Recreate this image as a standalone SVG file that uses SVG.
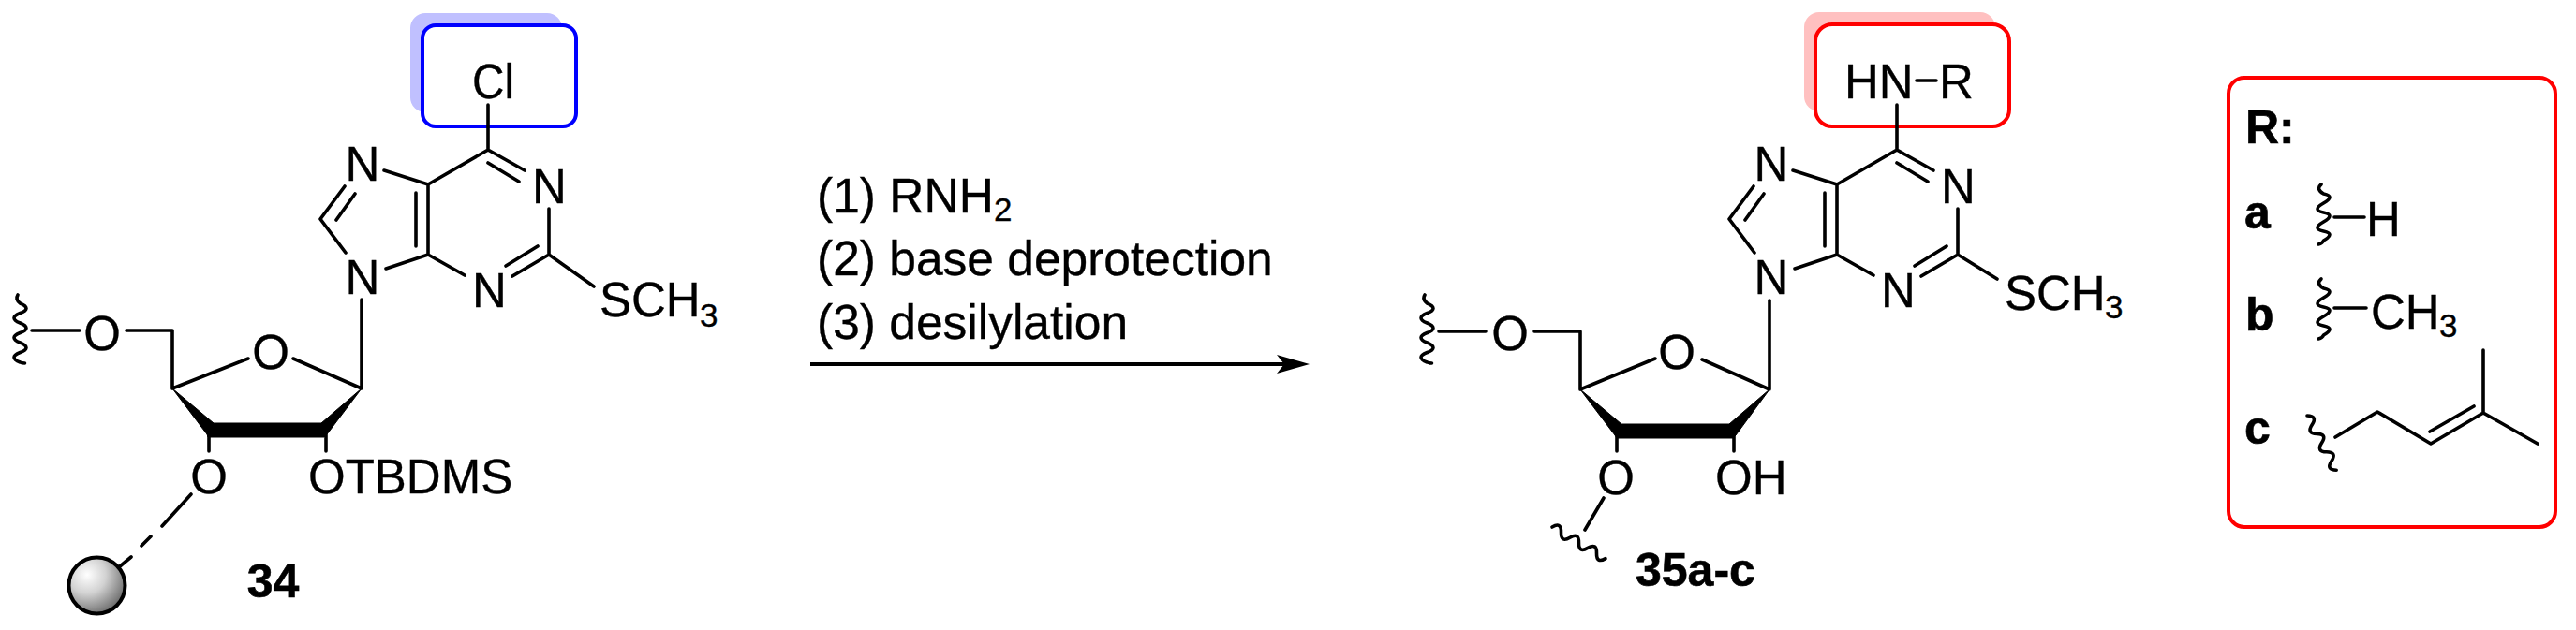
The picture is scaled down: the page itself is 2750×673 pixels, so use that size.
<svg xmlns="http://www.w3.org/2000/svg" width="2750" height="673" viewBox="0 0 2750 673">
<defs>
<style>
text{font-family:"Liberation Sans",Arial,sans-serif;font-size:51px;fill:#000;stroke:#000;stroke-width:.35}
.b{font-weight:bold;font-size:50px;stroke-width:.6}
.s{font-size:35px}
.r{font-size:51.5px}
.m{text-anchor:middle}
.l{fill:none;stroke:#000;stroke-width:3.6;stroke-linecap:round;stroke-linejoin:round}
.w{fill:none;stroke:#000;stroke-width:3.6;stroke-linecap:round;stroke-linejoin:round}
</style>
<radialGradient id="ball" gradientUnits="userSpaceOnUse" cx="93" cy="614" r="50">
<stop offset="0" stop-color="#ffffff"/><stop offset="0.4" stop-color="#d2d2d2"/><stop offset="1" stop-color="#555555"/>
</radialGradient>
</defs>
<rect width="2750" height="673" fill="#fff"/>

<g id="compound-34">
<rect x="438" y="14" width="162" height="106" rx="16" fill="#c0c0ff"/>
<rect x="451" y="27" width="164" height="108" rx="14" fill="#fff" stroke="#0000ff" stroke-width="4"/>
<path class="l" d="M521,112V160L560,182M521,174L554,194M586,223V272L547,295M574,263L540,284M496,294L457,272V197L521,160M444,263V206M457,197L410,182M368,199L342,234L369,270M379,207L359,235M457,272L412,287M386,320V415L313,383M265,383L184,415V353H135M85,353H34M586,272L634,306M223,464V482M348,464V482M204,528L173,562M161,573L151,583M140,595L128,605"/>
<path d="M184,415L228,452H343L386,415L349,464L346,467L222,467L221,464Z" fill="#000" stroke="#000" stroke-width="1" stroke-linejoin="round"/>
<path class="w" d="M19,315q-3,5 2.5,9q13,5.5 0,10.5t0,10.5t0,10.5t0,10.5t0,10.5t0,10.5q2,1 5,1"/>
<circle cx="103.5" cy="625.5" r="30" fill="url(#ball)" stroke="#000" stroke-width="4"/>
<text x="504" y="105" textLength="45" lengthAdjust="spacingAndGlyphs">Cl</text>
<text class="m" x="586.5" y="217">N</text>
<text class="m" x="522.5" y="328">N</text>
<text class="m" x="387" y="193">N</text>
<text class="m" x="387" y="314">N</text>
<text x="640" y="338">SCH</text><text class="s" x="747" y="349">3</text>
<text class="m" x="289" y="394">O</text>
<text class="m" x="109" y="374">O</text>
<text class="m" x="223" y="527">O</text>
<text x="329" y="527">OTBDMS</text>
<text class="b m" x="291.5" y="638">34</text>
</g>

<g id="reaction-conditions">
<text class="r" x="872" y="227">(1) RNH</text><text class="s" x="1061" y="236">2</text>
<text class="r" x="872" y="294">(2) base deprotection</text>
<text class="r" x="872" y="362">(3) desilylation</text>
</g>

<g id="connectors">
<path d="M865,389H1372" fill="none" stroke="#000" stroke-width="4"/>
<path d="M1398,389L1363,379L1371,389L1363,399Z" fill="#000"/>
</g>

<g id="compound-35a-c">
<rect x="1926" y="13" width="204" height="106" rx="16" fill="#ffc0c0"/>
<rect x="1938" y="26" width="207" height="109" rx="18" fill="#fff" stroke="#ff0000" stroke-width="4"/>
<path class="l" d="M2025,112V160L2064,182M2025,174L2058,194M2090,223V272L2051,295M2078,263L2044,284M2000,294L1961,272V197L2025,160M1948,263V206M1961,197L1914,182M1872,199L1846,234L1873,270M1883,207L1863,235M1961,272L1916,287M1889,321V416L1817,384M1767,383L1687,416V354H1638M1586,354H1536M2090,272L2132,298M1726,464V482M1851,464V482M1712,532L1692,566M2046,86H2067"/>
<path d="M1687,416L1731,453H1846L1889,416L1853,465L1850,468L1726,468L1724,465Z" fill="#000" stroke="#000" stroke-width="1" stroke-linejoin="round"/>
<path class="w" d="M1521,315q-3,5 2.5,9q13,5.5 0,10.5t0,10.5t0,10.5t0,10.5t0,10.5t0,10.5q2,1 5,1"/>
<path class="w" d="M1657,563q9.8,-5.8 9.5,5.6t9.5,5.6t9.5,5.6t9.5,5.6t9.5,5.6t9.5,5.6"/>
<text x="1969" y="105">HN</text>
<text x="2070" y="105">R</text>
<text class="m" x="2090.5" y="217">N</text>
<text class="m" x="2026.5" y="328">N</text>
<text class="m" x="1891" y="193">N</text>
<text class="m" x="1891" y="314">N</text>
<text x="2140" y="331">SCH</text><text class="s" x="2247" y="340">3</text>
<text class="m" x="1790" y="394">O</text>
<text class="m" x="1612" y="374">O</text>
<text class="m" x="1725" y="528">O</text>
<text x="1831" y="528">OH</text>
<text class="b" x="1746" y="626">35a-c</text>
</g>

<g id="r-groups">
<rect x="2379" y="83" width="349" height="480" rx="17" fill="none" stroke="#ff0000" stroke-width="4"/>
<text class="b" x="2397" y="153">R:</text>
<text class="b" x="2396" y="244">a</text>
<text class="b" x="2397" y="353">b</text>
<text class="b" x="2396" y="474">c</text>
<path class="w" d="M2478,197Q2472,202 2480.5,207q13,2.5 0,10t0,10t0,10t0,10t0,10q-1,3 -5.5,4"/>
<path class="w" d="M2478,298Q2472,303 2480.5,308q13,2.5 0,10t0,10t0,10t0,10t0,10q-1,3 -5.5,4"/>
<path class="w" d="M2463,444q11.4,.2 5.2,9.7t5.2,9.7t5.2,9.7t5.2,9.7t5.2,9.7t5.2,9.7"/>
<path class="l" d="M2492,232H2524M2492,329H2526M2493,467L2538,440L2595,474L2651,441L2709,474M2651,441V374M2594,461L2641,434"/>
<text x="2526" y="252">H</text>
<text x="2531" y="351">CH</text><text class="s" x="2604" y="360">3</text>
</g>
</svg>
